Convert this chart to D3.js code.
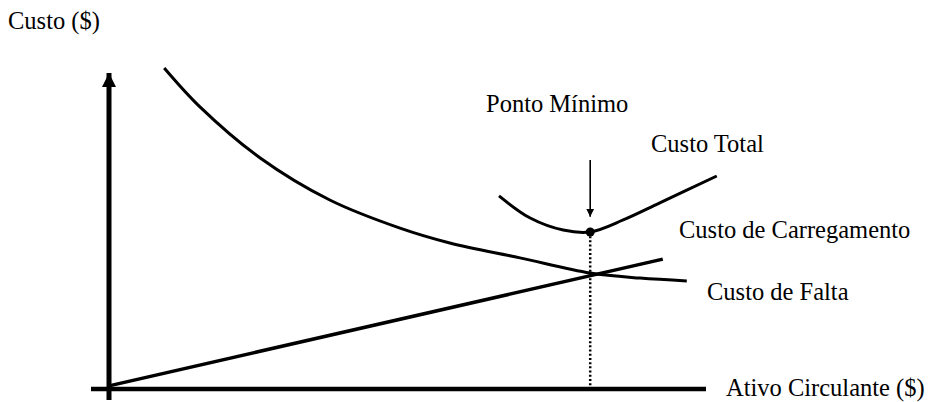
<!DOCTYPE html>
<html>
<head>
<meta charset="utf-8">
<script src="https://cdn.jsdelivr.net/npm/d3@7"></script>
<style>
  html, body { margin: 0; padding: 0; background: #fff; }
  svg { display: block; }
</style>
</head>
<body>
<svg id="chart" width="932" height="402"></svg>
<script>
// Custo de Falta (shortage cost): decreasing curve
const faltaX = [9.2, 15.2, 25.2, 36.8, 48.5, 56.8, 68.5, 80.2, 88.5, 96.3];
const faltaY = [101.6, 89.2, 73.1, 59.8, 50.9, 46.2, 41.5, 36.7, 35.1, 34.2];

// Custo de Carregamento (carrying cost): straight rising line
const carregX = [0, 92.3];
const carregY = [1.0, 41.1];

// Custo Total: U-shaped curve around the optimum
const totalX = [65.0, 70.2, 75.7, 80.2, 85.7, 91.8, 101.3];
const totalY = [61.1, 54.1, 50.3, 49.7, 53.5, 58.9, 67.4];

// Optimum point (Ponto Mínimo)
const minimoX = 80.2;
const minimoY = 49.7;

const labels = {
  yAxis: "Custo ($)",
  xAxis: "Ativo Circulante ($)",
  minimo: "Ponto Mínimo",
  total: "Custo Total",
  carreg: "Custo de Carregamento",
  falta: "Custo de Falta"
};

const svg = d3.select("#chart");

const x = d3.scaleLinear().domain([0, 100]).range([109, 709]);
const y = d3.scaleLinear().domain([0, 100]).range([389, 73]);

const zip = (xs, ys) => xs.map((v, i) => [v, ys[i]]);

// Arrowhead markers
const defs = svg.append("defs");
defs.append("marker")
  .attr("id", "axisHead")
  .attr("viewBox", "0 0 10 10")
  .attr("refX", 10).attr("refY", 5)
  .attr("markerUnits", "userSpaceOnUse")
  .attr("markerWidth", 14).attr("markerHeight", 15)
  .attr("orient", "auto")
  .append("path").attr("d", "M0,0 L10,5 L0,10 Z").attr("fill", "#000");

defs.append("marker")
  .attr("id", "pointerHead")
  .attr("viewBox", "0 0 10 10")
  .attr("refX", 10).attr("refY", 5)
  .attr("markerUnits", "userSpaceOnUse")
  .attr("markerWidth", 8).attr("markerHeight", 9)
  .attr("orient", "auto")
  .append("path").attr("d", "M0,0 L10,5 L0,10 Z").attr("fill", "#000");

// horizontal axis
svg.append("line")
  .attr("x1", x(-3)).attr("x2", x(99.5))
  .attr("y1", y(0)).attr("y2", y(0))
  .attr("stroke", "#000").attr("stroke-width", 4.5);

// vertical axis with arrowhead
svg.append("line")
  .attr("x1", x(0)).attr("x2", x(0))
  .attr("y1", y(-3.5)).attr("y2", y(100))
  .attr("stroke", "#000").attr("stroke-width", 5)
  .attr("marker-end", "url(#axisHead)");

const line = d3.line().x(d => x(d[0])).y(d => y(d[1]));
const smooth = d3.line().x(d => x(d[0])).y(d => y(d[1])).curve(d3.curveCatmullRom.alpha(0.5));

// Dotted drop line from the optimum down to the x axis
svg.append("line")
  .attr("x1", x(minimoX)).attr("x2", x(minimoX))
  .attr("y1", y(minimoY)).attr("y2", y(0))
  .attr("stroke", "#000").attr("stroke-width", 2.5)
  .attr("stroke-dasharray", "2,2.2");

// Shortage cost curve
svg.append("path")
  .attr("d", smooth(zip(faltaX, faltaY)))
  .attr("fill", "none").attr("stroke", "#000").attr("stroke-width", 3);

// Carrying cost line
svg.append("path")
  .attr("d", line(zip(carregX, carregY)))
  .attr("fill", "none").attr("stroke", "#000").attr("stroke-width", 3.5);

// Total cost curve
svg.append("path")
  .attr("d", smooth(zip(totalX, totalY)))
  .attr("fill", "none").attr("stroke", "#000").attr("stroke-width", 3);

// Optimum dot
svg.append("circle")
  .attr("cx", x(minimoX)).attr("cy", y(minimoY)).attr("r", 4.5)
  .attr("fill", "#000");

// Pointer arrow to the optimum
svg.append("line")
  .attr("x1", x(minimoX)).attr("x2", x(minimoX))
  .attr("y1", y(72.5)).attr("y2", y(54.5))
  .attr("stroke", "#000").attr("stroke-width", 1.6)
  .attr("marker-end", "url(#pointerHead)");

// Text labels
const addText = (t, px, py) => svg.append("text")
  .attr("x", px).attr("y", py)
  .attr("font-family", "'Liberation Serif', 'Times New Roman', Times, 'DejaVu Serif', serif")
  .attr("font-size", 24.5)
  .attr("fill", "#000")
  .text(t);
addText(labels.yAxis, 8, 29);
addText(labels.minimo, 486, 112);
addText(labels.total, 651, 152);
addText(labels.carreg, 679, 238);
addText(labels.falta, 707, 300);
addText(labels.xAxis, 726, 396);
</script>
</body>
</html>
